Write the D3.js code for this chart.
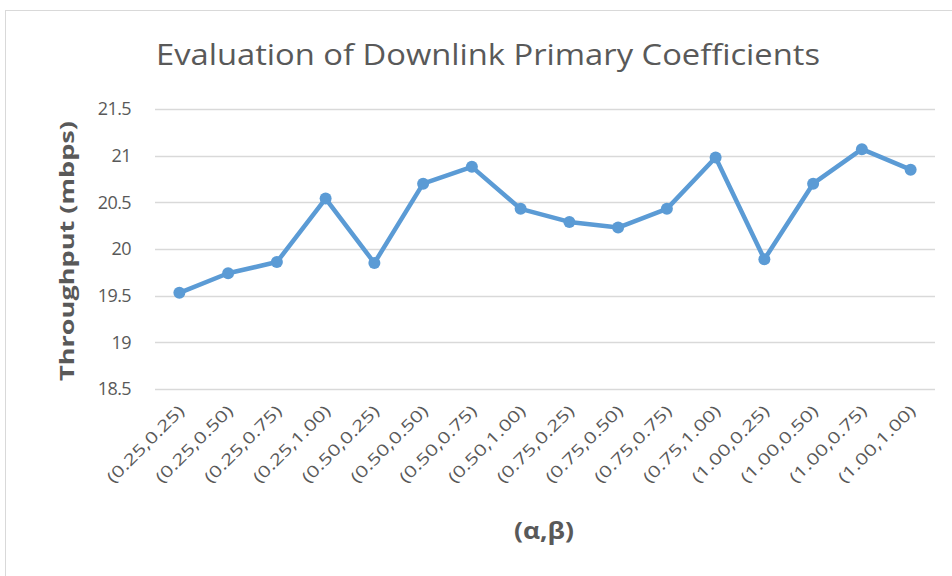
<!DOCTYPE html>
<html>
<head>
<meta charset="utf-8">
<script src="https://cdn.jsdelivr.net/npm/d3@7"></script>
<style>
  body { margin: 0; background: #fff; }
  text { font-family: "Open Sans", "Liberation Sans", sans-serif; }
</style>
</head>
<body>
<div id="container"></div>
<script>
/* DATA */
const categories = ["(0.25,0.25)", "(0.25,0.50)", "(0.25,0.75)", "(0.25,1.00)",
  "(0.50,0.25)", "(0.50,0.50)", "(0.50,0.75)", "(0.50,1.00)",
  "(0.75,0.25)", "(0.75,0.50)", "(0.75,0.75)", "(0.75,1.00)",
  "(1.00,0.25)", "(1.00,0.50)", "(1.00,0.75)", "(1.00,1.00)"];
const throughput = [19.53, 19.74, 19.86, 20.54, 19.85, 20.70, 20.88, 20.43,
  20.29, 20.23, 20.43, 20.98, 19.89, 20.70, 21.07, 20.85];
const yTicks = [18.5, 19, 19.5, 20, 20.5, 21, 21.5];

/* CONSTANTS */
const width = 952, height = 576;
const margin = { top: 109, bottom: 187, left: 155, right: 17 };
const textColor = "#595959";

const svg = d3.select("#container")
  .append("svg")
  .attr("width", width)
  .attr("height", height);

// chart frame (cut off at the right and bottom)
svg.append("rect")
  .attr("x", 5.5).attr("y", 10.5)
  .attr("width", 1000).attr("height", 1000)
  .attr("fill", "#fff")
  .attr("stroke", "#d9d9d9");

/* SCALES */
const xScale = d3.scaleBand()
  .domain(categories)
  .range([margin.left, width - margin.right]);

const yScale = d3.scaleLinear()
  .domain([18.5, 21.5])
  .range([height - margin.bottom, margin.top]);

// gridlines
svg.append("g")
  .selectAll("line")
  .data(yTicks)
  .join("line")
  .attr("x1", margin.left)
  .attr("x2", width - margin.right)
  .attr("y1", d => Math.round(yScale(d)) + 0.5)
  .attr("y2", d => Math.round(yScale(d)) + 0.5)
  .attr("stroke", "#d9d9d9")
  .attr("stroke-width", 1.3);

// y axis labels
const yAxis = d3.axisLeft(yScale).tickValues(yTicks).tickSize(0).tickPadding(0)
  .tickFormat(d3.format("~g"));
const yg = svg.append("g")
  .attr("transform", `translate(131,0)`)
  .call(yAxis);
yg.select(".domain").remove();
yg.selectAll("text")
  .attr("fill", textColor)
  .style("font-size", "18px")
  .style("font-family", "'Open Sans', sans-serif")
  .attr("letter-spacing", "-0.6px");

// x axis labels, rotated 45 degrees
const mid = d => xScale(d) + xScale.bandwidth() / 2;
const c45 = Math.SQRT1_2;
const xLabels = svg.append("g")
  .selectAll("g")
  .data(categories)
  .join("g")
  .attr("transform", d => `matrix(${c45},${-c45},${c45},${c45},${mid(d) + 6},${height - margin.bottom + 23})`);
xLabels.append("text")
  .attr("text-anchor", "end")
  .attr("fill", textColor)
  .style("font-size", "16px")
  .attr("textLength", 102)
  .attr("lengthAdjust", "spacingAndGlyphs")
  .text(d => d);

/* LINE */
const line = d3.line()
  .x((d, i) => mid(categories[i]))
  .y(d => yScale(d));

svg.append("path")
  .datum(throughput)
  .attr("d", line)
  .attr("fill", "none")
  .attr("stroke", "#5b9bd5")
  .attr("stroke-width", 4.5)
  .attr("stroke-linejoin", "round");

svg.append("g")
  .selectAll("circle")
  .data(throughput)
  .join("circle")
  .attr("cx", (d, i) => mid(categories[i]))
  .attr("cy", d => yScale(d))
  .attr("r", 6)
  .attr("fill", "#5b9bd5");

/* TITLES */
svg.append("text")
  .attr("x", 488)
  .attr("y", 65)
  .attr("text-anchor", "middle")
  .attr("fill", textColor)
  .style("font-size", "29px")
  .attr("textLength", 664)
  .attr("lengthAdjust", "spacingAndGlyphs")
  .text("Evaluation of Downlink Primary Coefficients");

svg.append("text")
  .attr("transform", "translate(74,251) rotate(-90)")
  .attr("text-anchor", "middle")
  .attr("fill", textColor)
  .style("font-size", "20px")
  .style("font-weight", "bold")
  .attr("textLength", 260)
  .attr("lengthAdjust", "spacingAndGlyphs")
  .text("Throughput (mbps)");

svg.append("text")
  .attr("x", 544)
  .attr("y", 539)
  .attr("text-anchor", "middle")
  .attr("fill", textColor)
  .style("font-size", "23px")
  .style("font-weight", "bold")
  .attr("textLength", 60)
  .attr("lengthAdjust", "spacingAndGlyphs")
  .text("(α,β)");
</script>
</body>
</html>
